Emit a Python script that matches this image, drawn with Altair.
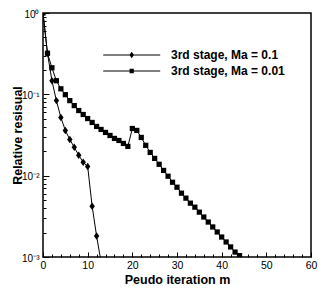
import altair as alt
import pandas as pd

# ---- data ----
series_names = ["3rd stage, Ma = 0.1", "3rd stage, Ma = 0.01"]

iter_a = list(range(0, 14))
res_a = [1.0, 0.32, 0.147, 0.0837, 0.0519, 0.036, 0.0279, 0.0223, 0.0178,
         0.0146, 0.0130, 0.00422, 0.00181, 0.00087]

iter_b = list(range(0, 45))
res_b = [1.0, 0.32, 0.212, 0.147, 0.117, 0.099, 0.0837, 0.0727, 0.0632, 0.0565,
         0.0504, 0.0451, 0.0403, 0.0370, 0.0340, 0.0312, 0.0287, 0.0271, 0.0249,
         0.0229, 0.0380, 0.0360, 0.0295, 0.0236, 0.0193, 0.0163, 0.0138, 0.0116,
         0.00984, 0.00830, 0.00721, 0.00609, 0.00529, 0.00459, 0.00410, 0.00356,
         0.00310, 0.00269, 0.00234, 0.00203, 0.00176, 0.00153, 0.00133, 0.00115,
         0.00104]

x_major = [0, 10, 20, 30, 40, 50, 60]
x_minor = [v for v in range(0, 61, 2) if v % 10 != 0]
y_major = [1, 0.1, 0.01, 0.001]
y_labels = ["10⁰", "10⁻¹", "10⁻²", "10⁻³"]
y_minor = [m * d for d in [0.001, 0.01, 0.1] for m in range(2, 10)]

df = pd.DataFrame({
    "series": [series_names[0]] * len(iter_a) + [series_names[1]] * len(iter_b),
    "iter": iter_a + iter_b,
    "res": res_a + res_b,
})

FONT = "Liberation Sans"

# label expression built from the tick lists
expr = "'" + y_labels[-1] + "'"
for v, lab in reversed(list(zip(y_major[:-1], y_labels[:-1]))):
    expr = f"datum.value > {v * 0.5} ? '{lab}' : ({expr})"

xs = alt.Scale(domain=[0, 60], nice=False)
ys = alt.Scale(type="log", domain=[0.001, 1], nice=False)

marker_paths = ["M0,-1L0.72,0L0,1L-0.72,0Z", "M-0.7,-0.7H0.7V0.7H-0.7Z"]
legend_paths = ["M-10,-0.18H10V0.18H-10ZM0,-1.15L0.82,0L0,1.15L-0.82,0Z",
                "M-10,-0.18H10V0.18H-10ZM-0.75,-0.75H0.75V0.75H-0.75Z"]

base = alt.Chart(df)

lines = base.mark_line(color="black", strokeWidth=1, clip=True).encode(
    x=alt.X("iter:Q", scale=xs, axis=alt.Axis(
        orient="bottom", values=x_major, tickSize=5, offset=-5, domain=False,
        grid=False, labelFontSize=10.5, labelPadding=3, labelFlush=False,
        labelOverlap=False, format="d", title="Peudo iteration m",
        titleFontSize=12.5, titleFontWeight="bold", titlePadding=3)),
    y=alt.Y("res:Q", scale=ys, axis=alt.Axis(
        orient="left", values=y_major, tickSize=6, offset=-6, domain=False,
        grid=False, labelFontSize=10, labelPadding=4, labelFlush=False,
        labelOffset=1, labelOverlap=False, labelExpr=expr,
        title="Relative resisual", titleFontSize=12.5,
        titleFontWeight="bold", titlePadding=-3)),
    detail="series:N",
)

points = base.mark_point(filled=True, color="black", size=56, opacity=1,
                         clip=True).encode(
    x=alt.X("iter:Q", scale=xs, axis=None),
    y=alt.Y("res:Q", scale=ys, axis=None),
    shape=alt.Shape("series:N", scale=alt.Scale(domain=series_names,
                                                range=marker_paths),
                    legend=None),
)

legend_layer = base.mark_point(filled=True, color="black", size=0,
                               clip=True).encode(
    x=alt.X("iter:Q", scale=xs, axis=alt.Axis(
        orient="bottom", values=x_minor, tickSize=3, offset=-3, domain=False,
        grid=False, labels=False, title=None)),
    y=alt.Y("res:Q", scale=ys, axis=alt.Axis(
        orient="left", values=y_minor, tickSize=3, offset=-3, domain=False,
        grid=False, labels=False, title=None)),
    shape=alt.Shape("series:N", scale=alt.Scale(domain=series_names,
                                                range=legend_paths),
                    legend=alt.Legend(
                        orient="none", legendX=82.7, legendY=36, title=None,
                        direction="vertical", symbolSize=32.5,
                        symbolStrokeWidth=0, symbolFillColor="black",
                        symbolOpacity=1,
                        symbolOffset=0, labelFont=FONT, labelFontSize=12,
                        labelFontWeight="bold", labelColor="black",
                        labelOffset=33.3, labelLimit=300, rowPadding=4,
                        padding=0)),
)

chart = alt.layer(lines, points, legend_layer).resolve_axis(
    x="independent", y="independent"
).resolve_scale(shape="independent").properties(
    width=268, height=244,
    autosize=alt.AutoSizeParams(type="none"),
    padding={"left": 35, "top": 5, "right": 8, "bottom": 29},
).configure_view(stroke="black", strokeWidth=1.5).configure_axis(
    labelFont=FONT, titleFont=FONT, labelColor="black", titleColor="black",
    tickColor="black", tickWidth=1,
).configure_legend(labelFont=FONT)

chart.save("out.html", embed_options={"renderer": "svg", "actions": False})
